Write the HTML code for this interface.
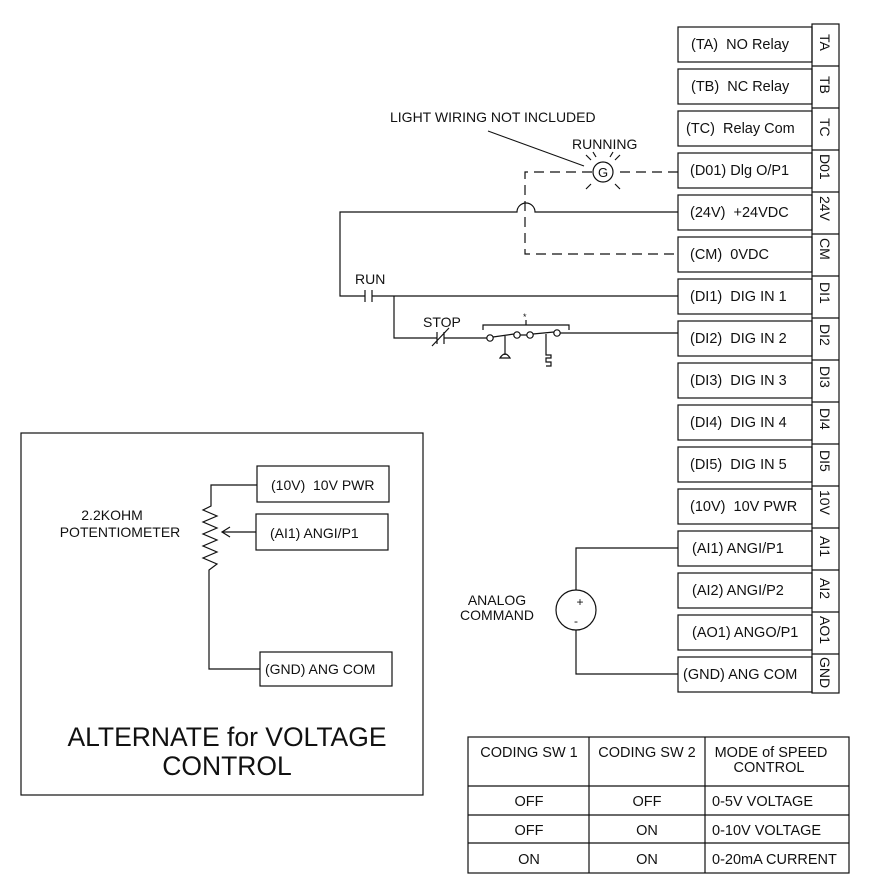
<!DOCTYPE html>
<html><head><meta charset="utf-8"><style>
html,body{margin:0;padding:0;background:#fff;}
svg{display:block;}
text{font-family:"Liberation Sans",sans-serif;fill:#111;white-space:pre;}
</style></head><body>
<svg width="869" height="893" viewBox="0 0 869 893" xmlns="http://www.w3.org/2000/svg" xml:space="preserve">
<g fill="none" stroke="#111" stroke-width="1.2">
<rect x="812" y="24" width="27" height="669"/>
<rect x="678" y="27" width="134" height="35"/>
<rect x="678" y="69" width="134" height="35"/>
<rect x="678" y="111" width="134" height="35"/>
<rect x="678" y="153" width="134" height="35"/>
<rect x="678" y="195" width="134" height="35"/>
<rect x="678" y="237" width="134" height="35"/>
<rect x="678" y="279" width="134" height="35"/>
<rect x="678" y="321" width="134" height="35"/>
<rect x="678" y="363" width="134" height="35"/>
<rect x="678" y="405" width="134" height="35"/>
<rect x="678" y="447" width="134" height="35"/>
<rect x="678" y="489" width="134" height="35"/>
<rect x="678" y="531" width="134" height="35"/>
<rect x="678" y="573" width="134" height="35"/>
<rect x="678" y="615" width="134" height="35"/>
<rect x="678" y="657" width="134" height="35"/>
<path d="M812 66H839M812 108H839M812 150H839M812 192H839M812 234H839M812 276H839M812 318H839M812 360H839M812 402H839M812 444H839M812 486H839M812 528H839M812 570H839M812 612H839M812 654H839"/>
<path d="M678 172H614M592 172H525V254H678" stroke-dasharray="10,6"/>
<circle cx="603" cy="172" r="10"/>
<path d="M591 160L586 155M615 160L620 155M591 184L586 189M615 184L620 189M596 157L593 152M610 157L613 152"/>
<path d="M488 131L584 166" stroke-width="1"/>
<path d="M678 212H535A8 8 0 0 0 517 212H340V296H365M365 290V302M372 290V302M372 296H678"/>
<path d="M394 296V338H437M437 332V344M444 332V344M432 346L449 328M444 338H487"/>
<circle cx="490" cy="338" r="3.2"/><circle cx="517" cy="335" r="3.2"/><circle cx="530" cy="335" r="3.2"/><circle cx="557" cy="333" r="3.2"/>
<path d="M493 337L514 334M520 335H527M533 334L554 332M560 333H678"/>
<path d="M483 330V325H569V330M526 325V320"/>
<path d="M505 336V355M500 358Q505 350 510 358Z"/>
<path d="M546 334V355H551V358H546V362H551V366H546"/>
<circle cx="576" cy="610" r="20"/>
<path d="M576 590V548H678M576 630V674H678"/>
<rect x="468" y="737" width="381" height="136"/>
<path d="M589 737V873M705 737V873M468 786H849M468 815H849M468 843H849"/>
<rect x="21" y="433" width="402" height="362"/>
<rect x="257" y="466" width="132" height="36"/>
<rect x="256" y="514" width="132" height="36"/>
<rect x="260" y="652" width="132" height="34"/>
<path d="M257 485H211V506L203 510L217 516L203 522L217 528L203 534L217 540L203 546L217 552L203 558L217 564L209 570V669H260"/>
<path d="M256 532H222M230 527L222 532L230 537"/>
</g>
<g font-size="14.5">
<text x="691" y="49">(TA)  NO Relay</text>
<text x="691" y="91">(TB)  NC Relay</text>
<text x="686" y="133">(TC)  Relay Com</text>
<text x="690" y="175">(D01) Dlg O/P1</text>
<text x="690" y="217">(24V)  +24VDC</text>
<text x="690" y="259">(CM)  0VDC</text>
<text x="690" y="301">(DI1)  DIG IN 1</text>
<text x="690" y="343">(DI2)  DIG IN 2</text>
<text x="690" y="385">(DI3)  DIG IN 3</text>
<text x="690" y="427">(DI4)  DIG IN 4</text>
<text x="690" y="469">(DI5)  DIG IN 5</text>
<text x="690" y="511">(10V)  10V PWR</text>
<text x="692" y="553">(AI1) ANGI/P1</text>
<text x="692" y="595">(AI2) ANGI/P2</text>
<text x="692" y="637">(AO1) ANGO/P1</text>
<text x="683" y="679">(GND) ANG COM</text>
</g>
<g font-size="14">
<text transform="translate(820,34) rotate(90)">TA</text>
<text transform="translate(820,76) rotate(90)">TB</text>
<text transform="translate(820,118) rotate(90)">TC</text>
<text transform="translate(820,154) rotate(90)">D01</text>
<text transform="translate(820,196) rotate(90)">24V</text>
<text transform="translate(820,238) rotate(90)">CM</text>
<text transform="translate(820,282) rotate(90)">DI1</text>
<text transform="translate(820,324) rotate(90)">DI2</text>
<text transform="translate(820,366) rotate(90)">DI3</text>
<text transform="translate(820,408) rotate(90)">DI4</text>
<text transform="translate(820,450) rotate(90)">DI5</text>
<text transform="translate(820,490) rotate(90)">10V</text>
<text transform="translate(820,536) rotate(90)">AI1</text>
<text transform="translate(820,578) rotate(90)">AI2</text>
<text transform="translate(820,616) rotate(90)">AO1</text>
<text transform="translate(820,657) rotate(90)">GND</text>
</g>
<g font-size="14">
<text x="390" y="122">LIGHT WIRING NOT INCLUDED</text>
<text x="572" y="149">RUNNING</text>
<text x="598" y="177" font-size="13">G</text>
<text x="355" y="284">RUN</text>
<text x="423" y="327">STOP</text>
<text x="523" y="320" font-size="9">*</text>
<text x="580" y="606" font-size="12" text-anchor="middle">+</text>
<text x="576" y="625" font-size="12" text-anchor="middle">-</text>
<text x="497" y="605" text-anchor="middle">ANALOG</text>
<text x="497" y="620" text-anchor="middle">COMMAND</text>
<text x="271" y="490">(10V)  10V PWR</text>
<text x="270" y="538">(AI1) ANGI/P1</text>
<text x="265" y="674">(GND) ANG COM</text>
<text x="112" y="520" text-anchor="middle">2.2KOHM</text>
<text x="120" y="537" text-anchor="middle">POTENTIOMETER</text>
</g>
<g font-size="26.5" text-anchor="middle">
<text x="227" y="746">ALTERNATE for VOLTAGE</text>
<text x="227" y="775">CONTROL</text>
</g>
<g font-size="14.5" text-anchor="middle">
<text x="529" y="757">CODING SW 1</text>
<text x="647" y="757">CODING SW 2</text>
<text x="771" y="757">MODE of SPEED</text>
<text x="769" y="772">CONTROL</text>
<text x="529" y="806">OFF</text><text x="647" y="806">OFF</text>
<text x="529" y="835">OFF</text><text x="647" y="835">ON</text>
<text x="529" y="864">ON</text><text x="647" y="864">ON</text>
</g>
<g font-size="14.5">
<text x="712" y="806">0-5V VOLTAGE</text>
<text x="712" y="835">0-10V VOLTAGE</text>
<text x="712" y="864">0-20mA CURRENT</text>
</g>
</svg>
</body></html>
